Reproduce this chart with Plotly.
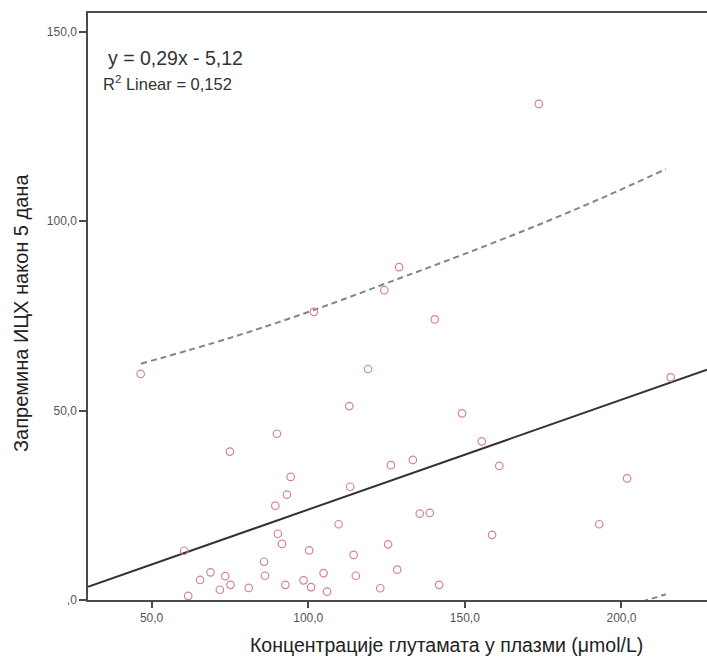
import plotly.graph_objects as go

# ---- data ----
glutamate = [46.5, 60.4, 61.7, 65.5, 68.8, 71.8, 73.5, 75.2, 75.0, 81.0,
             85.9, 86.2, 90.0, 89.5, 90.3, 91.6, 92.7, 93.2, 94.4, 98.5,
             100.3, 100.9, 101.8, 104.9, 106.0, 109.7, 113.1, 113.4, 114.5, 115.2,
             119.1, 123.0, 124.3, 125.5, 126.4, 128.4, 129.0, 133.4, 135.6, 138.8,
             140.4, 141.8, 149.1, 155.4, 158.7, 161.0, 173.6, 192.9, 201.8, 215.7]
volume = [59.7, 13.0, 1.1, 5.3, 7.3, 2.7, 6.3, 4.0, 39.2, 3.2,
          10.1, 6.4, 43.9, 24.9, 17.5, 14.8, 4.0, 27.8, 32.5, 5.2,
          13.1, 3.4, 76.1, 7.1, 2.2, 20.0, 51.2, 29.9, 11.9, 6.4,
          61.0, 3.1, 81.8, 14.7, 35.6, 8.0, 87.9, 37.0, 22.8, 23.0,
          74.1, 4.0, 49.3, 41.9, 17.2, 35.4, 131.0, 20.0, 32.1, 58.8]

fit_slope = 0.29
fit_intercept = -5.12

# prediction interval (dashed lines)
pi_x = [46.6, 75.0, 101.9, 129.0, 150.0, 173.6, 195.0, 214.2]
pi_upper = [62.4, 69.2, 76.6, 84.9, 91.4, 99.1, 106.6, 113.8]
pi_lower = [-45.5, -36.5, -27.8, -20.3, -14.3, -8.5, -3.3, 1.5]

x_range = [29.7, 227.3]
y_range = [0, 155]
x_tickvals = [50, 100, 150, 200]
x_ticktext = ["50,0", "100,0", "150,0", "200,0"]
y_tickvals = [0, 50, 100, 150]
y_ticktext = [",0", "50,0", "100,0", "150,0"]

x_title = "Концентрације глутамата у плазми (μmol/L)"
y_title = "Запремина ИЦХ након 5 дана"
eq_text = "y = 0,29x - 5,12"
r2_text = "R<sup>2</sup> Linear = 0,152"

FONT = "Liberation Sans, Arial, sans-serif"

fig = go.Figure()

fig.add_trace(go.Scatter(
    x=pi_x, y=pi_upper, mode="lines", line_shape="spline",
    line=dict(color="#858585", width=2, dash="6px,4px"),
    hoverinfo="skip", showlegend=False))
fig.add_trace(go.Scatter(
    x=pi_x, y=pi_lower, mode="lines", line_shape="spline",
    line=dict(color="#858585", width=2, dash="6px,4px"),
    hoverinfo="skip", showlegend=False))

fig.add_trace(go.Scatter(
    x=x_range, y=[fit_slope * v + fit_intercept for v in x_range], mode="lines",
    line=dict(color="#333333", width=2),
    hoverinfo="skip", showlegend=False))

fig.add_trace(go.Scatter(
    x=glutamate, y=volume, mode="markers",
    marker=dict(symbol="circle-open", size=7.5, color="#d4848f",
                line=dict(width=1.2, color="#d4848f")),
    showlegend=False))

fig.update_layout(
    width=707, height=664,
    margin=dict(l=88, r=0, t=13, b=64),
    paper_bgcolor="white", plot_bgcolor="white",
    font=dict(family=FONT, color="#333333"),
    showlegend=False,
)

fig.update_xaxes(
    range=x_range, tickvals=x_tickvals, ticktext=x_ticktext,
    showgrid=False, zeroline=False,
    showline=True, linecolor="#4a4a4a", linewidth=1.5, mirror=True,
    ticks="outside", ticklen=6, tickcolor="#4a4a4a", tickwidth=1.5,
    tickfont=dict(size=12, color="#555555", family=FONT),
)
fig.update_yaxes(
    range=y_range, tickvals=y_tickvals, ticktext=y_ticktext,
    showgrid=False, zeroline=False,
    showline=True, linecolor="#4a4a4a", linewidth=1.5,
    ticks="outside", ticklen=7, tickcolor="#4a4a4a", tickwidth=1.5,
    tickfont=dict(size=12, color="#555555", family=FONT),
)

W = 619.0
H = 587.0
def px_x(p):
    return (p - 88) / W
def px_y(p):
    return (600 - p) / H

fig.add_annotation(xref="paper", yref="paper", x=px_x(446), y=px_y(645),
                   text=x_title, showarrow=False, xanchor="center", yanchor="middle",
                   font=dict(size=19.5, color="#222222", family=FONT))
fig.add_annotation(xref="paper", yref="paper", x=px_x(21), y=px_y(313),
                   text=y_title, showarrow=False, textangle=-90,
                   xanchor="center", yanchor="middle",
                   font=dict(size=20, color="#222222", family=FONT))
fig.add_annotation(xref="paper", yref="paper", x=px_x(106), y=px_y(58),
                   text=eq_text, showarrow=False, xanchor="left", yanchor="middle",
                   font=dict(size=19.5, color="#333333", family=FONT))
fig.add_annotation(xref="paper", yref="paper", x=px_x(101), y=px_y(83),
                   text=r2_text, showarrow=False, xanchor="left", yanchor="middle",
                   font=dict(size=16.5, color="#333333", family=FONT))

fig.write_html("out.html")
